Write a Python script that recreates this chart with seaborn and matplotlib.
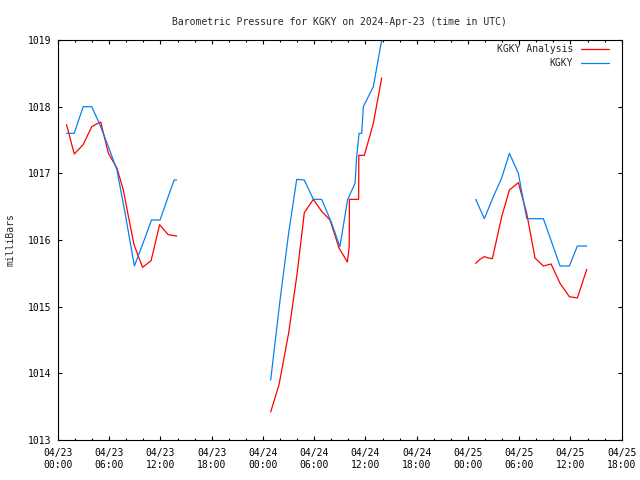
import numpy as np
import pandas as pd
import seaborn as sns
import matplotlib.pyplot as plt
import matplotlib.dates as mdates

# hours after 2024-04-23 00:00 UTC, pressure in mb, segment number
analysis_hours = [1.0, 1.9, 2.95, 3.95, 4.5, 5.0, 5.9, 6.9, 7.65, 8.25, 8.9, 9.9, 10.9, 11.9, 12.9, 13.9,
                  24.9, 25.88, 27.0, 28.0, 28.84, 29.9, 30.87, 31.85, 32.9, 33.88, 34.1, 34.12, 34.97, 35.2, 35.22, 35.87, 36.92, 37.9,
                  48.91, 49.4, 49.92, 50.4, 50.86, 51.95, 52.85, 53.9, 54.88, 55.85, 56.83, 57.73, 58.78, 59.87, 60.81, 61.91]
analysis_mb = [1017.73, 1017.29, 1017.43, 1017.70, 1017.74, 1017.77, 1017.30, 1017.08, 1016.75, 1016.35, 1015.93, 1015.59, 1015.69, 1016.23, 1016.08, 1016.06,
               1013.42, 1013.83, 1014.60, 1015.50, 1016.41, 1016.61, 1016.43, 1016.30, 1015.88, 1015.67, 1015.90, 1016.61, 1016.61, 1016.61, 1017.27, 1017.27, 1017.75, 1018.43,
               1015.65, 1015.71, 1015.75, 1015.73, 1015.72, 1016.35, 1016.75, 1016.86, 1016.40, 1015.73, 1015.61, 1015.64, 1015.35, 1015.15, 1015.13, 1015.56]
analysis_seg = [1] * 16 + [2] * 18 + [3] * 16

obs_hours = [1.0, 1.9, 2.95, 3.95, 4.9, 5.9, 6.9, 7.9, 8.94, 9.95, 10.95, 11.95, 12.9, 13.6, 13.9,
             24.9, 26.0, 27.0, 27.95, 28.84, 29.9, 30.87, 32.05, 33.0, 33.92, 34.78, 34.97, 35.25, 35.56, 35.75, 36.92, 37.9,
             48.91, 49.92, 50.97, 51.95, 52.85, 53.9, 54.88, 56.83, 58.78, 59.87, 60.81, 61.91]
obs_mb = [1017.6, 1017.6, 1018.0, 1018.0, 1017.73, 1017.4, 1017.05, 1016.37, 1015.61, 1015.95, 1016.3, 1016.3, 1016.65, 1016.9, 1016.9,
          1013.9, 1015.1, 1016.1, 1016.91, 1016.9, 1016.61, 1016.61, 1016.25, 1015.9, 1016.61, 1016.85, 1017.25, 1017.6, 1017.6, 1018.0, 1018.3, 1019.0,
          1016.61, 1016.32, 1016.65, 1016.93, 1017.3, 1017.0, 1016.32, 1016.32, 1015.61, 1015.61, 1015.91, 1015.91]
obs_seg = [1] * 15 + [2] * 17 + [3] * 12

series_names = ['KGKY Analysis', 'KGKY']
series_colors = ['#ff0000', '#0a80f0']

base = pd.Timestamp('2024-04-23 00:00')
df = pd.concat([
    pd.DataFrame({'hours': analysis_hours, 'mb': analysis_mb, 'seg': analysis_seg, 'series': series_names[0]}),
    pd.DataFrame({'hours': obs_hours, 'mb': obs_mb, 'seg': obs_seg, 'series': series_names[1]}),
], ignore_index=True)
df['time'] = base + pd.to_timedelta(df['hours'], unit='h')
df['unit'] = df['series'] + df['seg'].astype(str)

sns.set_style('ticks')
plt.rcParams['font.family'] = ['DejaVu Sans Mono']
plt.rcParams['font.size'] = 7

fig = plt.figure(figsize=(6.4, 4.8), dpi=100)
ax = fig.add_axes([58 / 640, 40 / 480, 563.7 / 640, 400 / 480])

sns.lineplot(data=df, x='time', y='mb', hue='series', units='unit', estimator=None,
             hue_order=series_names, palette=series_colors, linewidth=0.9, ax=ax)

ax.set_xlim(base, base + pd.Timedelta(hours=66))
ax.set_ylim(1013, 1019)
ax.set_yticks(np.arange(1013, 1020, 1))
ax.yaxis.set_major_formatter(plt.FormatStrFormatter('%d'))
ax.xaxis.set_major_locator(mdates.HourLocator(byhour=[0, 6, 12, 18]))
ax.xaxis.set_minor_locator(mdates.HourLocator(byhour=[2, 4, 8, 10, 14, 16, 20, 22]))
ax.xaxis.set_major_formatter(mdates.DateFormatter('%m/%d\n%H:%M'))

ax.tick_params(which='both', direction='in', top=True, right=True, colors='black', labelsize=7)
ax.tick_params(which='major', length=3.2, width=0.8, pad=5)
ax.tick_params(which='minor', length=1.6, width=0.8)
ax.tick_params(axis='x', which='major', pad=6)
for s in ax.spines.values():
    s.set_color('black')
    s.set_linewidth(0.8)

ax.set_xlabel('')
ax.set_ylabel('milliBars', fontsize=7)
ax.yaxis.set_label_coords(-0.076, 0.5)
ax.set_title('Barometric Pressure for KGKY on 2024-Apr-23 (time in UTC)', fontsize=7, pad=11)

sns.move_legend(ax, 'upper right', bbox_to_anchor=(609 / 640, 1 - 44 / 480), bbox_transform=fig.transFigure,
                frameon=False, title=None, markerfirst=False, borderpad=0, borderaxespad=0,
                handlelength=2.9, handletextpad=0.8, labelspacing=0.45, fontsize=7)

fig.savefig('out.png', dpi=100)
